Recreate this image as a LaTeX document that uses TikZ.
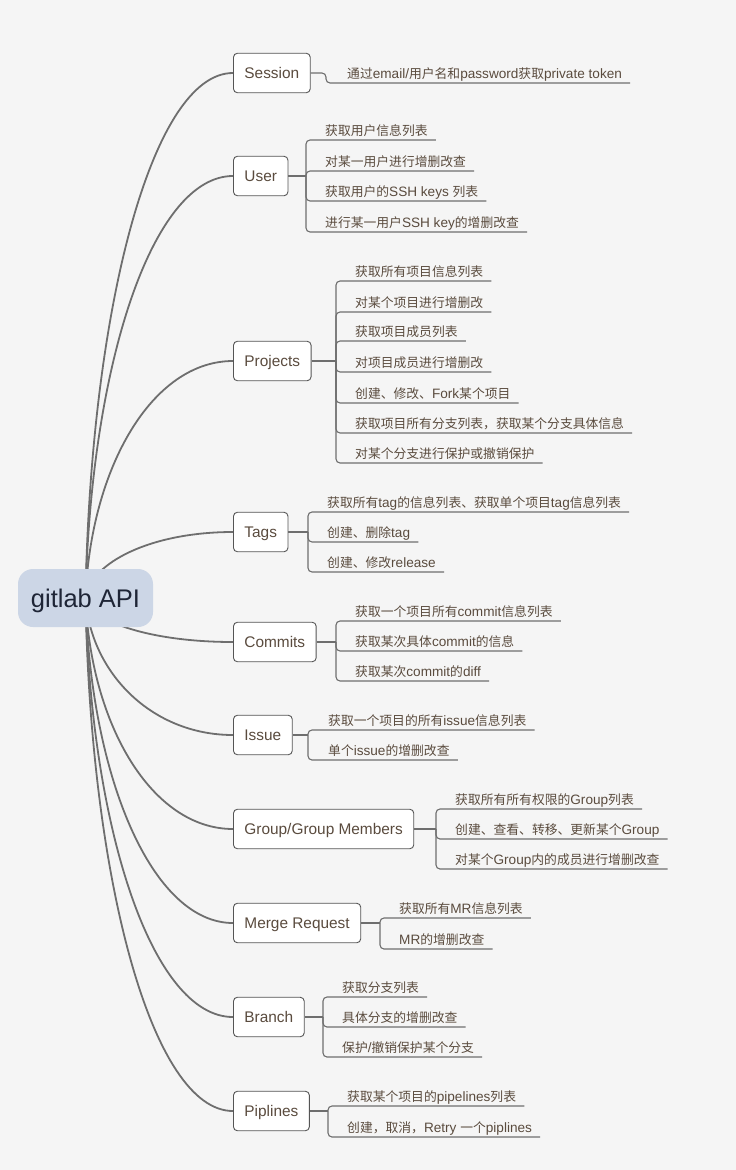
\documentclass[tikz,border=0pt]{standalone}
\usepackage{fontspec}
\setmainfont{Liberation Sans}
\newfontfamily\cjkfont{Noto Sans CJK SC}
\usetikzlibrary{calc,backgrounds}
\definecolor{bgcol}{HTML}{F5F5F5}
\definecolor{linecol}{HTML}{6E6E6E}
\definecolor{bordercol}{HTML}{555555}
\definecolor{txtcol}{HTML}{5A4B3E}
\definecolor{rootfill}{HTML}{CCD6E6}
\definecolor{roottxt}{HTML}{1E2536}
\newcommand\zh[1]{{\fontsize{12.8}{15}\cjkfont #1}}
\begin{document}
\begin{tikzpicture}[x=1pt,y=-1pt,
 root/.style={fill=rootfill, rounded corners=15pt, minimum width=135pt, minimum height=58pt, inner sep=0pt, text height=18.3pt, text depth=0pt, text=roottxt, font=\fontsize{25.5}{30}\selectfont},
 branch/.style={draw=bordercol, line width=0.9pt, fill=white, rounded corners=4pt, minimum height=39.5pt, inner xsep=11pt, inner ysep=0pt, text height=11pt, text depth=0pt, anchor=west, text=txtcol, font=\fontsize{15.4}{18}\selectfont},
 leaf/.style={inner sep=0pt, anchor=base west, text=txtcol, font=\fontsize{13.6}{16}\selectfont},
 curve/.style={draw=linecol, line width=1.8pt},
 stem/.style={draw=linecol, line width=1.8pt},
 uline/.style={draw=linecol, line width=1.1pt, rounded corners=4pt},
]
\useasboundingbox (0,0) rectangle (736,1170);
% root
\node[root] (root) at (85.5,598) {gitlab API};
% branches
\node[branch] (session) at (233,73) {Session};
\node[branch] (user) at (233,176) {User};
\node[branch] (proj) at (233,361) {Projects};
\node[branch] (tags) at (233,532) {Tags};
\node[branch] (comm) at (233,642) {Commits};
\node[branch] (issue) at (233,735) {Issue};
\node[branch] (group) at (233,829) {Group/Group Members};
\node[branch] (mr) at (233,923) {Merge Request};
\node[branch] (br) at (233,1017) {Branch};
\node[branch] (pip) at (233,1111) {Piplines};
% junctions
\coordinate (sJ) at (326,73);
\coordinate (userJ) at (306,176);
\coordinate (projJ) at (336,361);
\coordinate (tagsJ) at (308,532);
\coordinate (commJ) at (336,642);
\coordinate (issueJ) at (308,735);
\coordinate (groupJ) at (436,829);
\coordinate (mrJ) at (380,923);
\coordinate (brJ) at (323,1017);
\coordinate (pipJ) at (328,1111);
% leaves
\node[leaf] (s1) at (347,78) {\zh{通过}email/\zh{用户名和}password\zh{获取}private token};
\node[leaf] (u1) at (325,135) {\zh{获取用户信息列表}};
\node[leaf] (u2) at (325,166) {\zh{对某一用户进行增删改查}};
\node[leaf] (u3) at (325,196) {\zh{获取用户的}SSH keys \zh{列表}};
\node[leaf] (u4) at (325,227) {\zh{进行某一用户}SSH key\zh{的增删改查}};
\node[leaf] (p1) at (355,276) {\zh{获取所有项目信息列表}};
\node[leaf] (p2) at (355,307) {\zh{对某个项目进行增删改}};
\node[leaf] (p3) at (355,336) {\zh{获取项目成员列表}};
\node[leaf] (p4) at (355,367) {\zh{对项目成员进行增删改}};
\node[leaf] (p5) at (355,398) {\zh{创建、修改、}Fork\zh{某个项目}};
\node[leaf] (p6) at (355,428) {\zh{获取项目所有分支列表，获取某个分支具体信息}};
\node[leaf] (p7) at (355,458) {\zh{对某个分支进行保护或撤销保护}};
\node[leaf] (t1) at (327,507) {\zh{获取所有}tag\zh{的信息列表、获取单个项目}tag\zh{信息列表}};
\node[leaf] (t2) at (327,537) {\zh{创建、删除}tag};
\node[leaf] (t3) at (327,567) {\zh{创建、修改}release};
\node[leaf] (c1) at (355,616) {\zh{获取一个项目所有}commit\zh{信息列表}};
\node[leaf] (c2) at (355,646) {\zh{获取某次具体}commit\zh{的信息}};
\node[leaf] (c3) at (355,676) {\zh{获取某次}commit\zh{的}diff};
\node[leaf] (i1) at (328,725) {\zh{获取一个项目的所有}issue\zh{信息列表}};
\node[leaf] (i2) at (328,755) {\zh{单个}issue\zh{的增删改查}};
\node[leaf] (g1) at (455,804) {\zh{获取所有所有权限的}Group\zh{列表}};
\node[leaf] (g2) at (455,834) {\zh{创建、查看、转移、更新某个}Group};
\node[leaf] (g3) at (455,864) {\zh{对某个}Group\zh{内的成员进行增删改查}};
\node[leaf] (m1) at (399,913) {\zh{获取所有}MR\zh{信息列表}};
\node[leaf] (m2) at (399,944) {MR\zh{的增删改查}};
\node[leaf] (b1) at (342,992) {\zh{获取分支列表}};
\node[leaf] (b2) at (342,1022) {\zh{具体分支的增删改查}};
\node[leaf] (b3) at (342,1052) {\zh{保护}/\zh{撤销保护某个分支}};
\node[leaf] (q1) at (347,1101) {\zh{获取某个项目的}pipelines\zh{列表}};
\node[leaf] (q2) at (347,1132) {\zh{创建，取消，}Retry \zh{一个}piplines};
% stems
\draw[uline] (session.east) -- (sJ) |- ($(s1.base east)+(8,5)$);
\draw[stem] (user.east) -- (userJ);
\draw[stem] (proj.east) -- (projJ);
\draw[stem] (tags.east) -- (tagsJ);
\draw[stem] (comm.east) -- (commJ);
\draw[stem] (issue.east) -- (issueJ);
\draw[stem] (group.east) -- (groupJ);
\draw[stem] (mr.east) -- (mrJ);
\draw[stem] (br.east) -- (brJ);
\draw[stem] (pip.east) -- (pipJ);
% underlines
\foreach \j/\l in {userJ/u1,userJ/u2,userJ/u3,userJ/u4,
  projJ/p1,projJ/p2,projJ/p3,projJ/p4,projJ/p5,projJ/p6,projJ/p7,
  tagsJ/t1,tagsJ/t2,tagsJ/t3,commJ/c1,commJ/c2,commJ/c3,
  issueJ/i1,issueJ/i2,groupJ/g1,groupJ/g2,groupJ/g3,
  mrJ/m1,mrJ/m2,brJ/b1,brJ/b2,brJ/b3,pipJ/q1,pipJ/q2}
  \draw[uline] (\j) |- ($(\l.base east)+(8,5)$);
% curves
\begin{pgfonlayer}{background}
\fill[bgcol] (0,0) rectangle (736,1170);
\draw[curve] (root.center) .. controls +(5,-289) and +(-81,0) .. (session.west);
\draw[curve] (root.center) .. controls +(5,-232) and +(-81,0) .. (user.west);
\draw[curve] (root.center) .. controls +(5,-130) and +(-81,0) .. (proj.west);
\draw[curve] (root.center) .. controls +(5,-36) and +(-81,0) .. (tags.west);
\draw[curve] (root.center) .. controls +(5,24) and +(-81,0) .. (comm.west);
\draw[curve] (root.center) .. controls +(5,75) and +(-81,0) .. (issue.west);
\draw[curve] (root.center) .. controls +(5,127) and +(-81,0) .. (group.west);
\draw[curve] (root.center) .. controls +(5,179) and +(-81,0) .. (mr.west);
\draw[curve] (root.center) .. controls +(5,230) and +(-81,0) .. (br.west);
\draw[curve] (root.center) .. controls +(5,282) and +(-81,0) .. (pip.west);
\end{pgfonlayer}
\end{tikzpicture}
\end{document}
